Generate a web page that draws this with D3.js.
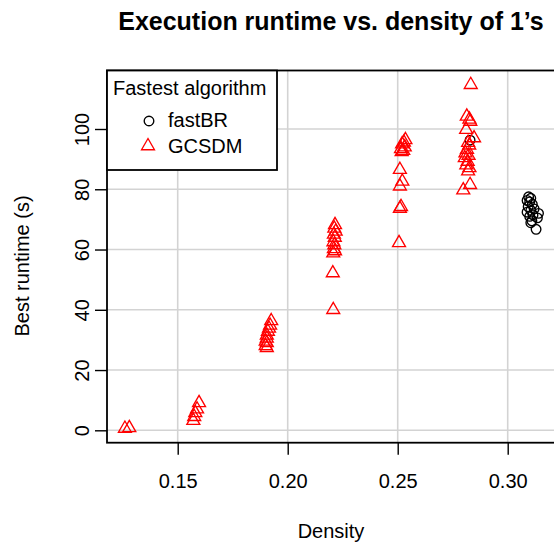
<!DOCTYPE html>
<html>
<head>
<meta charset="utf-8">
<script src="https://cdn.jsdelivr.net/npm/d3@7"></script>
<style>
  html, body { margin: 0; padding: 0; background: #fff; overflow: hidden; }
  text { font-family: "Liberation Sans", Arial, Helvetica, sans-serif; }
</style>
</head>
<body>
<svg id="chart" width="554" height="546"></svg>
<script>
// GCSDM runs: matrix density vs. best runtime in seconds
const gcsdmDensity = [
  0.1260, 0.1280,
  0.1571, 0.1575, 0.1580, 0.1588, 0.1597,
  0.1925, 0.1920, 0.1915, 0.1910, 0.1905, 0.1905, 0.1900, 0.1905, 0.1900, 0.1905,
  0.2215, 0.2212, 0.2218, 0.2210, 0.2214, 0.2208, 0.2212, 0.2210, 0.2215, 0.2207, 0.2205, 0.2207,
  0.2535, 0.2528, 0.2520, 0.2532, 0.2515, 0.2525, 0.2518, 0.2510, 0.2521, 0.2510, 0.2510, 0.2515, 0.2506,
  0.2832, 0.2814, 0.2826, 0.2830, 0.2811, 0.2847, 0.2820, 0.2825, 0.2815, 0.2808, 0.2822, 0.2805,
  0.2818, 0.2812, 0.2826, 0.2820, 0.2829, 0.2798
];
const gcsdmRuntime = [
  0.6, 0.8,
  3.2, 4.5, 5.8, 7.0, 9.1,
  36.3, 34.8, 33.8, 32.8, 31.5, 30.5, 29.5, 29.0, 28.0, 27.4,
  68.2, 67.0, 66.0, 65.0, 64.0, 62.5, 61.5, 60.2, 59.5, 58.8, 52.2, 40.0,
  96.4, 95.6, 95.0, 94.0, 93.4, 92.8, 92.4, 86.5, 82.6, 81.0, 73.6, 74.2, 62.2,
  114.7, 104.2, 103.2, 102.5, 99.8, 97.0, 95.5, 94.6, 93.2, 92.0, 91.2, 90.4,
  89.2, 88.0, 87.1, 86.0, 81.5, 79.7
];

// fastBR runs
const fastbrDensity = [
  0.2829,
  0.3095, 0.3105, 0.3088, 0.3100, 0.3112, 0.3093, 0.3120, 0.3105,
  0.3088, 0.3140, 0.3115, 0.3100, 0.3135, 0.3110, 0.3105, 0.3129
];
const fastbrRuntime = [
  96.3,
  77.5, 77.0, 76.3, 75.8, 75.0, 74.2, 73.5, 73.0,
  72.4, 72.0, 71.5, 71.0, 70.5, 69.5, 68.9, 66.7
];

const xTicks = [0.15, 0.20, 0.25, 0.30];
const yTicks = [0, 20, 40, 60, 80, 100];
const seriesNames = ["fastBR", "GCSDM"];
const seriesColors = ["#000000", "#FF0000"];

const svg = d3.select("#chart");
svg.append("rect").attr("width", 554).attr("height", 546).attr("fill", "#fff");

const plot = { left: 107, right: 560, top: 70.5, bottom: 442.7 };

const x = d3.scaleLinear().domain([0.11786, 0.32377]).range([plot.left, plot.right]);
const y = d3.scaleLinear().domain([-4.115, 119.42]).range([plot.bottom, plot.top]);

const R = 4.8;           // symbol radius
const strokeW = 1.35;

function trianglePath(cx, cy) {
  const top = 1.555 * R, half = 1.347 * R, base = 0.778 * R;
  return `M${cx},${cy - top}L${cx + half},${cy + base}L${cx - half},${cy + base}Z`;
}

// grid
const grid = svg.append("g").attr("stroke", "#d3d3d3").attr("stroke-width", 1.6);
xTicks.forEach(t => grid.append("line")
  .attr("x1", x(t)).attr("x2", x(t)).attr("y1", plot.top).attr("y2", plot.bottom));
yTicks.forEach(t => grid.append("line")
  .attr("x1", plot.left).attr("x2", plot.right).attr("y1", y(t)).attr("y2", y(t)));

// axes
const xAxis = d3.axisBottom(x).tickValues(xTicks).tickFormat(d3.format(".2f"))
  .tickSizeInner(12).tickSizeOuter(0).tickPadding(20);
const gx = svg.append("g").attr("transform", `translate(0,${plot.bottom})`).call(xAxis);
gx.select(".domain").remove();
gx.selectAll("line").attr("stroke", "#000").attr("stroke-width", 1.4);
gx.selectAll("text").attr("font-size", 20).attr("fill", "#000")
  .attr("font-family", "Liberation Sans, Arial, sans-serif")
  .attr("dy", null).attr("y", 45.8);

const yAxis = d3.axisLeft(y).tickValues(yTicks).tickFormat(d3.format("d"))
  .tickSizeInner(12).tickSizeOuter(0);
const gy = svg.append("g").attr("transform", `translate(${plot.left},0)`).call(yAxis);
gy.select(".domain").remove();
gy.selectAll("line").attr("stroke", "#000").attr("stroke-width", 1.4);
gy.selectAll("text")
  .attr("font-size", 20).attr("fill", "#000")
  .attr("font-family", "Liberation Sans, Arial, sans-serif")
  .attr("x", null).attr("dy", null)
  .attr("text-anchor", "middle")
  .attr("transform", "translate(-18.5,0) rotate(-90)");

// points: fastBR first, GCSDM triangles on top
svg.append("g").selectAll("circle").data(d3.range(fastbrDensity.length)).join("circle")
  .attr("cx", i => x(fastbrDensity[i])).attr("cy", i => y(fastbrRuntime[i])).attr("r", R)
  .attr("fill", "none").attr("stroke", seriesColors[0]).attr("stroke-width", strokeW);

svg.append("g").selectAll("path").data(d3.range(gcsdmDensity.length)).join("path")
  .attr("d", i => trianglePath(x(gcsdmDensity[i]), y(gcsdmRuntime[i])))
  .attr("fill", "none").attr("stroke", seriesColors[1]).attr("stroke-width", strokeW);

// plot frame
svg.append("rect")
  .attr("x", plot.left).attr("y", plot.top)
  .attr("width", plot.right - plot.left).attr("height", plot.bottom - plot.top)
  .attr("fill", "none").attr("stroke", "#000").attr("stroke-width", 1.8);

// legend
const lg = svg.append("g");
lg.append("rect").attr("x", 107).attr("y", 70.5).attr("width", 170).attr("height", 99.5)
  .attr("fill", "#fff").attr("stroke", "#000").attr("stroke-width", 1.8);
lg.append("text").attr("x", 113).attr("y", 95).attr("font-size", 20).text("Fastest algorithm");
lg.append("circle").attr("cx", 149).attr("cy", 121).attr("r", R)
  .attr("fill", "none").attr("stroke", seriesColors[0]).attr("stroke-width", strokeW);
lg.append("text").attr("x", 168).attr("y", 127).attr("font-size", 20).text(seriesNames[0]);
lg.append("path").attr("d", trianglePath(148, 146))
  .attr("fill", "none").attr("stroke", seriesColors[1]).attr("stroke-width", strokeW);
lg.append("text").attr("x", 168).attr("y", 152.5).attr("font-size", 20).text(seriesNames[1]);

// titles
const cx = 331;
svg.append("text").attr("x", cx).attr("y", 30).attr("text-anchor", "middle")
  .attr("font-size", 25).attr("font-weight", "bold").text("Execution runtime vs. density of 1’s");
svg.append("text").attr("x", cx).attr("y", 537.5).attr("text-anchor", "middle")
  .attr("font-size", 20).text("Density");
svg.append("text").attr("transform", `translate(29,266) rotate(-90)`)
  .attr("text-anchor", "middle").attr("font-size", 20).text("Best runtime (s)");
</script>
</body>
</html>
